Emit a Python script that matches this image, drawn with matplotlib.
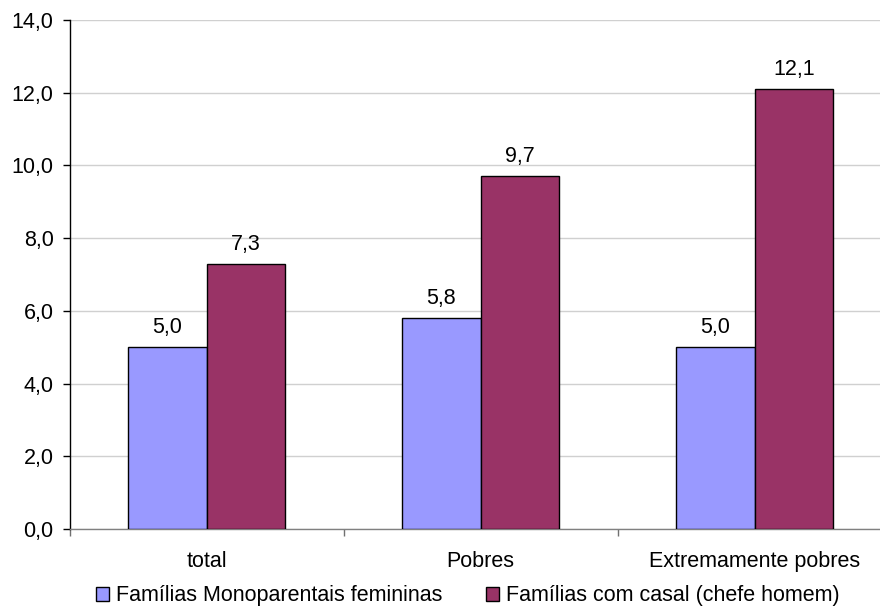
import matplotlib
matplotlib.use("Agg")
import matplotlib.pyplot as plt
from matplotlib.patches import Patch
import numpy as np

categories = ["total", "Pobres", "Extremamente pobres"]
series_names = ["Famílias Monoparentais femininas", "Famílias com casal (chefe homem)"]
mono_fem = [5.0, 5.8, 5.0]
casal = [7.3, 9.7, 12.1]
colors = ["#9999FF", "#993366"]
y_ticks = [0, 2, 4, 6, 8, 10, 12, 14]

plt.rcParams["font.family"] = ["Liberation Sans", "DejaVu Sans"]
fs = 15.5

W, H = 880, 607
fig = plt.figure(figsize=(W / 100, H / 100), dpi=100)
left_px, right_px, top_px, bottom_px = 69.5, 880, 20, 529
ax = fig.add_axes([left_px / W, (H - bottom_px) / H, (right_px - left_px) / W, (bottom_px - top_px) / H])

cat_w_px = 274.0
x = np.arange(len(categories))
bw = 78.5 / cat_w_px

for i, (vals, col) in enumerate(zip([mono_fem, casal], colors)):
    pos = x + (i - 0.5) * bw
    bars = ax.bar(pos, vals, width=bw, color=col, edgecolor="black", linewidth=1.0, zorder=3)
    for b, v in zip(bars, vals):
        ax.annotate(f"{v:.1f}".replace(".", ","), (b.get_x() + b.get_width() / 2, v),
                    xytext=(0, 6.5), textcoords="offset points", ha="center", va="bottom",
                    fontsize=fs, color="black")

ax.set_xlim(-0.5, -0.5 + (right_px - left_px) / cat_w_px)
ax.set_ylim(0, 14)
ax.set_yticks(y_ticks)
ax.set_yticklabels([f"{t:.1f}".replace(".", ",") for t in y_ticks], fontsize=fs)
ax.yaxis.grid(True, color="#d0d0d0", linewidth=1.0, zorder=0)
ax.set_axisbelow(True)

ax.set_xticks(x)
ax.set_xticklabels(categories, fontsize=fs)
ax.set_xticks([-0.5, 0.5, 1.5], minor=True)
ax.tick_params(axis="x", which="major", length=0, pad=16)
ax.tick_params(axis="x", which="minor", length=5, width=1.0, color="#707070", direction="out")
ax.tick_params(axis="y", length=5, width=1.0, pad=6.5, direction="out")

for s in ["top", "right"]:
    ax.spines[s].set_visible(False)
ax.spines["left"].set_color("black")
ax.spines["left"].set_linewidth(1.0)
ax.spines["bottom"].set_color("#808080")
ax.spines["bottom"].set_linewidth(1.0)

handles = [Patch(facecolor=c, edgecolor="black", linewidth=1.0) for c in colors]
fig.legend(handles, series_names, loc="center", bbox_to_anchor=(468 / W, 1 - 596 / H),
           ncol=2, frameon=False, fontsize=fs, handlelength=0.6, handleheight=0.6,
           handletextpad=0.33, columnspacing=2.0, borderpad=0, borderaxespad=0)

fig.savefig("out.png", dpi=100)
